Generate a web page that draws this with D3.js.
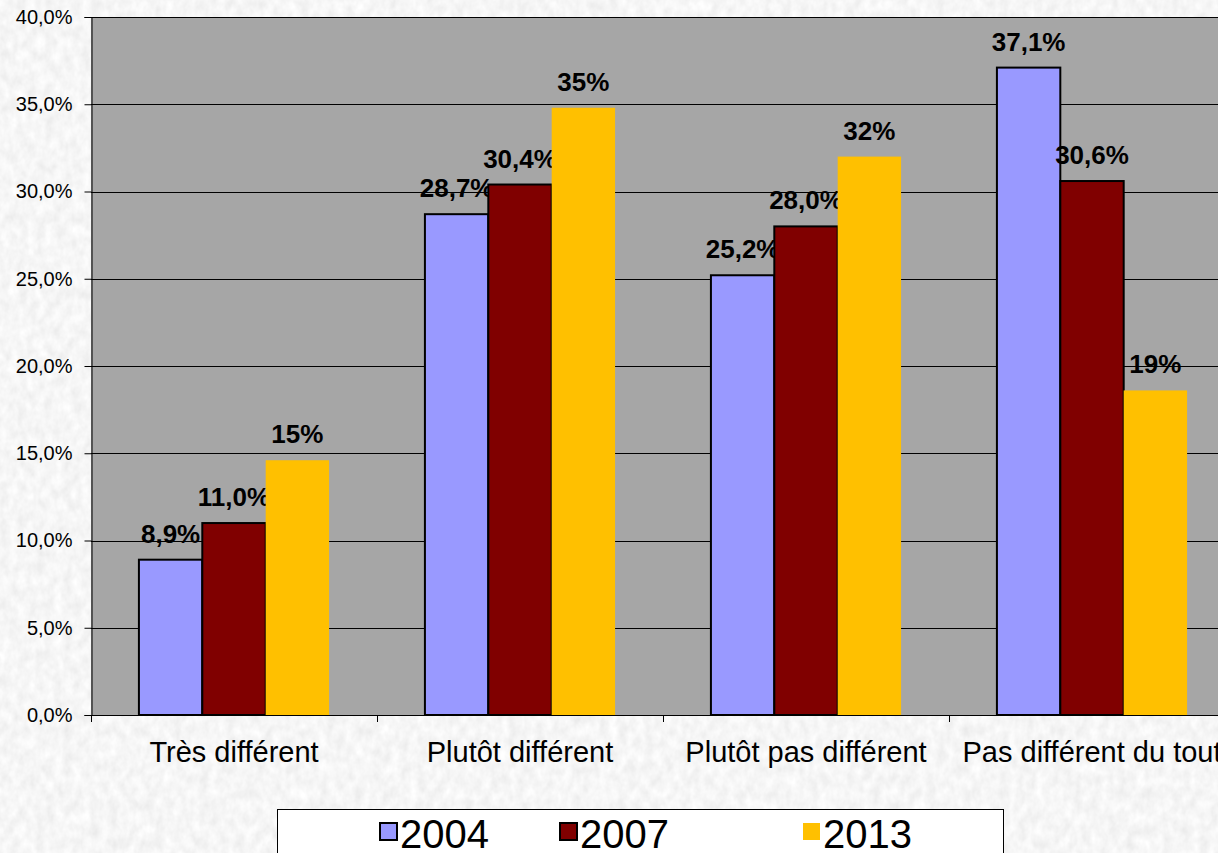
<!DOCTYPE html>
<html>
<head>
<meta charset="utf-8">
<script src="https://cdn.jsdelivr.net/npm/d3@7"></script>
<style>
  html, body { margin: 0; padding: 0; overflow: hidden; background: #e9e9e9; }
  svg { display: block; font-family: "Liberation Sans", Arial, sans-serif; }
</style>
</head>
<body>
<svg id="chart"></svg>
<script>
const categories = ["Très différent", "Plutôt différent", "Plutôt pas différent", "Pas différent du tout"];
const years = ["2004", "2007", "2013"];
const values2004 = [8.9, 28.7, 25.2, 37.1];
const values2007 = [11.0, 30.4, 28.0, 30.6];
const values2013 = [14.6, 34.8, 32.0, 18.6];
const labels2004 = ["8,9%", "28,7%", "25,2%", "37,1%"];
const labels2007 = ["11,0%", "30,4%", "28,0%", "30,6%"];
const labels2013 = ["15%", "35%", "32%", "19%"];
const yTicks = [0, 5, 10, 15, 20, 25, 30, 35, 40];
const colors = ["#9999ff", "#800000", "#ffc000"];

const series = [
  {year: years[0], values: values2004, labels: labels2004, color: colors[0], border: true},
  {year: years[1], values: values2007, labels: labels2007, color: colors[1], border: true},
  {year: years[2], values: values2013, labels: labels2013, color: colors[2], border: false}
];

const width = 1218;
const height = 853;
const margin = {top: 17, right: -17, bottom: 138, left: 91};

const svg = d3.select("#chart").attr("width", width).attr("height", height);

// marble-ish background
const defs = svg.append("defs");
const filt = defs.append("filter").attr("id", "marble")
  .attr("x", 0).attr("y", 0).attr("width", "100%").attr("height", "100%");
filt.append("feTurbulence").attr("type", "fractalNoise")
  .attr("baseFrequency", "0.11 0.08").attr("numOctaves", 3).attr("seed", 4);
filt.append("feColorMatrix").attr("type", "matrix")
  .attr("values", "0.22 0 0 0 0.81  0.22 0 0 0 0.81  0.22 0 0 0 0.81  0 0 0 0 1");
svg.append("rect").attr("width", width).attr("height", height).attr("filter", "url(#marble)");

const x = d3.scaleBand().domain(categories).range([margin.left, width - margin.right]).padding(0);
const xInner = d3.scaleBand().domain(years).range([0, x.bandwidth()]).paddingInner(0).paddingOuter(0.756);
const y = d3.scaleLinear().domain([0, 40]).range([height - margin.bottom, margin.top]);

// plot area
svg.append("rect")
  .attr("x", margin.left).attr("y", margin.top)
  .attr("width", width - margin.right - margin.left)
  .attr("height", y(0) - margin.top)
  .attr("fill", "#a6a6a6");

// gridlines
svg.append("g").selectAll("line")
  .data(yTicks.filter(d => d > 0))
  .join("line")
  .attr("x1", margin.left).attr("x2", width - margin.right)
  .attr("y1", d => Math.round(y(d)) + 0.5).attr("y2", d => Math.round(y(d)) + 0.5)
  .attr("stroke", "#000").attr("stroke-width", 1);

// bars
const groups = svg.append("g").selectAll("g")
  .data(series)
  .join("g");

groups.selectAll("rect")
  .data(s => s.values.map((v, i) => ({v, cat: categories[i], s})))
  .join("rect")
  .attr("x", d => x(d.cat) + xInner(d.s.year))
  .attr("y", d => y(d.v))
  .attr("width", xInner.bandwidth())
  .attr("height", d => y(0) - y(d.v))
  .attr("fill", d => d.s.color)
  .attr("stroke", d => d.s.border ? "#000" : "none")
  .attr("stroke-width", 2);

// value labels
groups.selectAll("text")
  .data(s => s.values.map((v, i) => ({v, cat: categories[i], s, label: s.labels[i]})))
  .join("text")
  .attr("x", d => x(d.cat) + xInner(d.s.year) + xInner.bandwidth() / 2)
  .attr("y", d => y(d.v) - 17)
  .attr("text-anchor", "middle")
  .attr("font-weight", "bold")
  .attr("font-size", 26)
  .attr("fill", "#000")
  .text(d => d.label);

// y axis
const yAxis = d3.axisLeft(y).tickValues(yTicks).tickSize(7).tickPadding(12)
  .tickFormat(d => d3.format(".1f")(d).replace(".", ",") + "%");
const gy = svg.append("g").attr("transform", `translate(${margin.left + 0.5},0)`).call(yAxis)
  .attr("font-family", null).attr("font-size", 20);
gy.select(".domain").attr("stroke", "#000");
gy.selectAll("line").attr("stroke", "#000");
gy.selectAll("text").attr("fill", "#000");

// x axis
svg.append("line")
  .attr("x1", margin.left).attr("x2", width - margin.right)
  .attr("y1", y(0) + 0.5).attr("y2", y(0) + 0.5).attr("stroke", "#000");
svg.append("g").selectAll("line")
  .data(categories)
  .join("line")
  .attr("x1", d => x(d) + 0.5).attr("x2", d => x(d) + 0.5)
  .attr("y1", y(0)).attr("y2", y(0) + 7)
  .attr("stroke", "#000");
svg.append("g").selectAll("text")
  .data(categories)
  .join("text")
  .attr("x", d => x(d) + x.bandwidth() / 2)
  .attr("y", 762)
  .attr("text-anchor", "middle")
  .attr("font-size", 29)
  .attr("fill", "#000")
  .text(d => d);

// legend
const legend = svg.append("g");
legend.append("rect")
  .attr("x", 277.5).attr("y", 809.5).attr("width", 726).attr("height", 60)
  .attr("fill", "#fff").attr("stroke", "#000");
const legendX = [380, 560, 803];
const items = legend.selectAll("g.item")
  .data(series)
  .join("g").attr("class", "item")
  .attr("transform", (d, i) => `translate(${legendX[i]},823)`);
items.append("rect")
  .attr("width", 17).attr("height", 17)
  .attr("fill", d => d.color)
  .attr("stroke", d => d.border ? "#000" : "none")
  .attr("stroke-width", 2);
items.append("text")
  .attr("x", 20).attr("y", 25)
  .attr("font-size", 40)
  .attr("fill", "#000")
  .text(d => d.year);
</script>
</body>
</html>
